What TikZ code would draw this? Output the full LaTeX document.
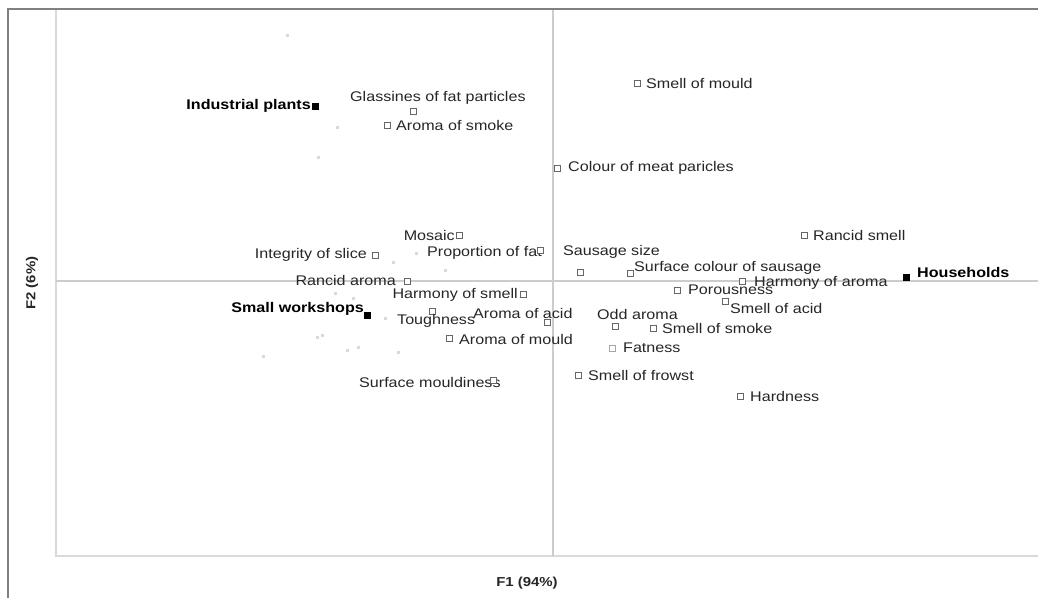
\documentclass[tikz,border=0pt]{standalone}
\usepackage{fontspec}
\setmainfont[FakeStretch=1.15]{Liberation Sans}
\begin{document}
\begin{tikzpicture}[x=1pt,y=-1pt,
  lbl/.style={inner sep=0pt,font=\fontsize{14}{16}\selectfont,text=black!85},
  blbl/.style={inner sep=0pt,font=\fontsize{14}{16}\selectfont\bfseries,text=black},
  axlbl/.style={inner sep=0pt,font=\fontsize{13}{15}\selectfont\bfseries,text=black!85},
  var/.style={rectangle,draw=black!60,fill=white,line width=0.8pt,minimum size=6pt,inner sep=0pt},
  grp/.style={rectangle,fill=black,minimum size=7pt,inner sep=0pt},
  obs/.style={rectangle,fill=black!15,minimum size=3pt,inner sep=0pt},
  frameline/.style={draw=black!50,line width=1.5pt},
  plotline/.style={draw=black!15,line width=1.5pt},
  axisline/.style={draw=black!20,line width=2pt},
]
\useasboundingbox (0,0) rectangle (1038,598);
\fill[white] (0,0) rectangle (1038,598);
% frame coordinates
\coordinate (oBL) at (8,598);
\coordinate (oTL) at (8,9);
\coordinate (oTR) at (1038,9);
\coordinate (pTL) at (56,9);
\coordinate (pBL) at (56,556);
\coordinate (pBR) at (1038,556);
\coordinate (hL) at (56,281);
\coordinate (hR) at (1038,281);
\coordinate (vT) at (553,9);
\coordinate (vB) at (553,556);
\draw[plotline] (pTL) -- (pBL) -- (pBR);
\draw[axisline] (hL) -- (hR);
\draw[axisline] (vT) -- (vB);
\draw[frameline] (oBL) -- (oTL) -- (oTR);

% axis titles
\node[axlbl,rotate=90] (f2) at (32,283) {F2 (6\%)};
\node[axlbl] (f1) at (527,583) {F1 (94\%)};

% faint observation points
\node[obs] (o1) at (287,35) {};
\node[obs] (o2) at (337,127) {};
\node[obs] (o3) at (318,157) {};
\node[obs] (o4) at (393,262) {};
\node[obs] (o5) at (416,253) {};
\node[obs] (o6) at (445,270) {};
\node[obs] (o7) at (335,293) {};
\node[obs] (o8) at (353,298) {};
\node[obs] (o9) at (385,318) {};
\node[obs] (o10) at (317,337) {};
\node[obs] (o11) at (322,335) {};
\node[obs] (o12) at (263,356) {};
\node[obs] (o13) at (347,350) {};
\node[obs] (o14) at (358,347) {};
\node[obs] (o15) at (398,352) {};

% groups (filled)
\node[grp] (ip) at (315,106) {};
\node[blbl,anchor=east] (ipl) at (311,106) {Industrial plants};
\node[grp] (sw) at (367,315) {};
\node[blbl,anchor=east] (swl) at (364,309) {Small workshops};
\node[grp] (hh) at (906,277) {};
\node[blbl,anchor=west] (hhl) at (917,272) {Households};

% variables (open squares)
\node[var] (gl) at (413,111) {};
\node[lbl,anchor=west] (gll) at (350,98) {Glassines of fat particles};
\node[var] (as) at (387,125) {};
\node[lbl,anchor=west] (asl) at (396,125) {Aroma of smoke};
\node[var] (sm) at (637,83) {};
\node[lbl,anchor=west] (sml) at (646,83) {Smell of mould};
\node[var] (cm) at (557,168) {};
\node[lbl,anchor=west] (cml) at (568,168) {Colour of meat paricles};
\node[var] (mo) at (459,235) {};
\node[lbl,anchor=east] (mol) at (455,235) {Mosaic};
\node[var] (is) at (375,255) {};
\node[lbl,anchor=east] (isl) at (367,255) {Integrity of slice};
\node[lbl,anchor=west] (pfl) at (427,253) {Proportion of fat};
\node[var] (pf) at (540,250) {};
\node[lbl,anchor=west] (ssl) at (563,252) {Sausage size};
\node[var] (ss) at (580,272) {};
\node[var] (sc) at (630,273) {};
\node[lbl,anchor=west] (scl) at (634,268) {Surface colour of sausage};
\node[var] (rs) at (804,235) {};
\node[lbl,anchor=west] (rsl) at (813,235) {Rancid smell};
\node[var] (ha) at (742,281) {};
\node[lbl,anchor=west] (hal) at (754,283) {Harmony of aroma};
\node[var] (po) at (677,290) {};
\node[lbl,anchor=west] (pol) at (688,290) {Porousness};
\node[var] (sa) at (725,301) {};
\node[lbl,anchor=west] (sal) at (730,308) {Smell of acid};
\node[var] (ra) at (407,281) {};
\node[lbl,anchor=east] (ral) at (396,280) {Rancid aroma};
\node[var] (hs) at (523,294) {};
\node[lbl,anchor=east] (hsl) at (518,295) {Harmony of smell};
\node[var] (to) at (432,311) {};
\node[lbl,anchor=west] (tol) at (397,321) {Toughness};
\node[lbl,anchor=west] (aal) at (473,313) {Aroma of acid};
\node[var] (aa) at (547,322) {};
\node[var] (am) at (449,338) {};
\node[lbl,anchor=west] (aml) at (459,339) {Aroma of mould};
\node[lbl,anchor=west] (oal) at (597,314) {Odd aroma};
\node[var] (oa) at (615,326) {};
\node[var] (sk) at (653,328) {};
\node[lbl,anchor=west] (skl) at (662,328) {Smell of smoke};
\node[var,draw=black!35] (fa) at (612,348) {};
\node[lbl,anchor=west] (fal) at (623,348) {Fatness};
\node[var] (sf) at (578,375) {};
\node[lbl,anchor=west] (sfl) at (588,375) {Smell of frowst};
\node[lbl,anchor=west] (sul) at (359,382) {Surface mouldiness};
\node[var] (su) at (493,380) {};
\node[var] (hd) at (740,396) {};
\node[lbl,anchor=west] (hdl) at (750,396) {Hardness};
\end{tikzpicture}
\end{document}
